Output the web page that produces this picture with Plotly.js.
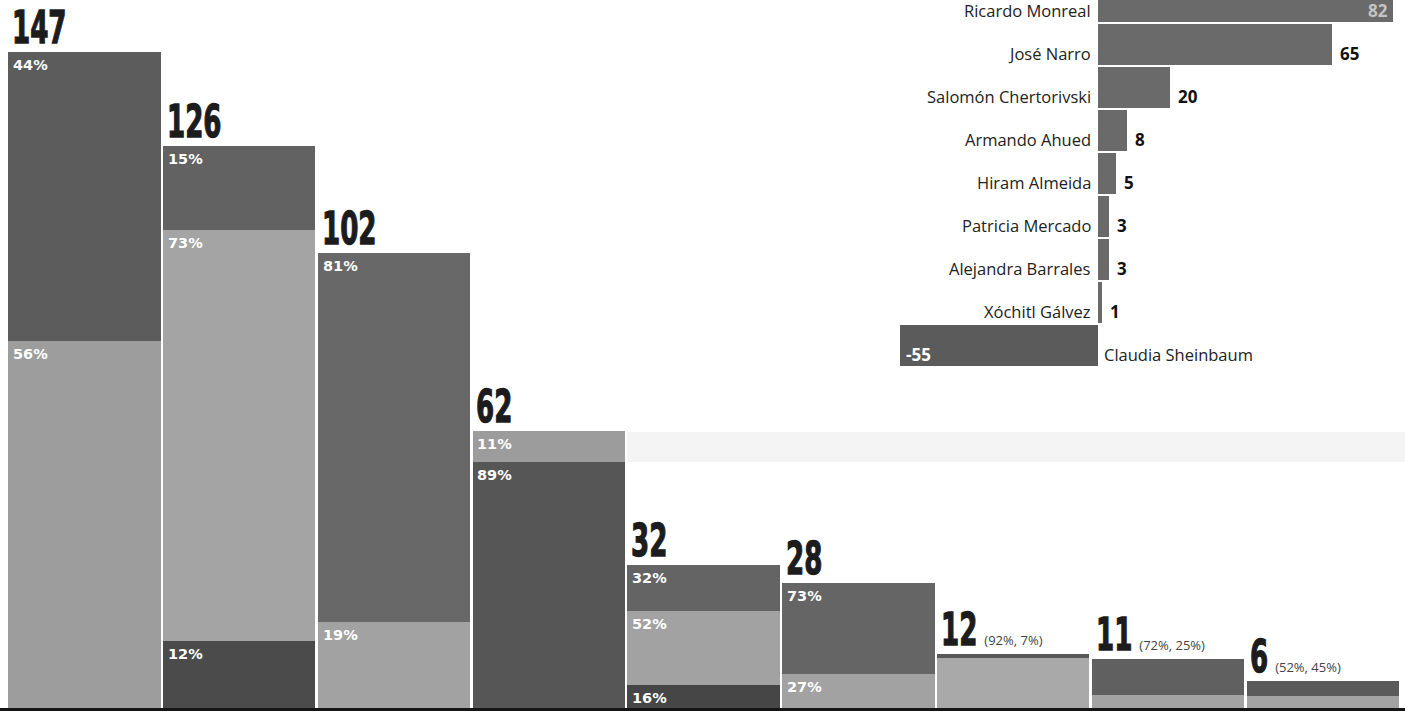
<!DOCTYPE html>
<html>
<head>
<meta charset="utf-8">
<script src="https://cdn.plot.ly/plotly-3.0.1.min.js"></script>
<style>html,body{margin:0;padding:0;background:#fff;}#chart{width:1405px;height:713px;}</style>
</head>
<body>
<div id="chart"></div>
<script>
// ---- Main chart data ----
const totals = [147, 126, 102, 62, 32, 28, 12, 11, 6];
const pctBottom = [56, 12, 19, 89, 16, 27, 92, 25, 45];
const pctMiddle = [44, 73, 81, 11, 52, 73, 7, 72, 52];
const pctTop    = [0, 15, 0, 0, 32, 0, 0, 0, 0];
const showInsidePct = [true, true, true, true, true, true, false, false, false];
const sideNotes = ['', '', '', '', '', '', '(92%, 7%)', '(72%, 25%)', '(52%, 45%)'];

// ---- Inset data ----
const names = ['Ricardo Monreal', 'José Narro', 'Salomón Chertorivski', 'Armando Ahued',
  'Hiram Almeida', 'Patricia Mercado', 'Alejandra Barrales', 'Xóchitl Gálvez', 'Claudia Sheinbaum'];
const netValues = [82, 65, 20, 8, 5, 3, 3, 1, -55];

// ---- Styles ----
const colBottom = ['#9d9d9d', '#4b4b4b', '#a2a2a2', '#565656', '#464646', '#a2a2a2', '#a9a9a9', '#a3a3a3', '#a3a3a3'];
const colMiddle = ['#5c5c5c', '#a4a4a4', '#686868', '#9c9c9c', '#a2a2a2', '#656565', '#585858', '#606060', '#5a5a5a'];
const colTop    = ['#606060', '#626262', '#606060', '#606060', '#646464', '#606060', '#606060', '#606060', '#606060'];
const insetColors = netValues.map((v, i) => i === 8 ? '#5b5b5b' : '#6a6a6a');

const idx = totals.map((_, i) => i);
const sums = idx.map(i => pctBottom[i] + pctMiddle[i] + pctTop[i]);
const segB = idx.map(i => totals[i] * pctBottom[i] / sums[i]);
const segM = idx.map(i => totals[i] * pctMiddle[i] / sums[i]);
const segT = idx.map(i => totals[i] * pctTop[i] / sums[i]);

const BW = 0.985;
const traces = [
  {type: 'bar', x: idx, y: segB, width: BW, marker: {color: colBottom, line: {width: 0}}, xaxis: 'x', yaxis: 'y', hoverinfo: 'skip'},
  {type: 'bar', x: idx, y: segM, width: BW, marker: {color: colMiddle, line: {width: 0}}, xaxis: 'x', yaxis: 'y', hoverinfo: 'skip'},
  {type: 'bar', x: idx, y: segT, width: BW, marker: {color: colTop, line: {width: 0}}, xaxis: 'x', yaxis: 'y', hoverinfo: 'skip'},
  {type: 'bar', orientation: 'h', y: names, x: netValues, width: 0.95,
   marker: {color: insetColors, line: {width: 0}}, xaxis: 'x2', yaxis: 'y2', hoverinfo: 'skip'}
];

const annotations = [];
const bigFont = "DejaVu Sans, sans-serif";
const smallFont = "Open Sans, Noto Sans, sans-serif";
const pctFont = "DejaVu Sans, sans-serif";
const SQUEEZE = 0.58;

// totals above bars (indices 0..8)
idx.forEach(i => {
  annotations.push({
    x: i - 0.5, y: totals[i], xref: 'x', yref: 'y', xanchor: 'left', yanchor: 'bottom',
    xshift: 3, yshift: -4, text: '<b>' + totals[i] + '</b>', showarrow: false,
    font: {family: bigFont, size: 45, color: '#1c1c1c'}
  });
});
// side notes (recorded with the bar they belong to)
const noteMap = {};
idx.forEach(i => {
  if (!sideNotes[i]) return;
  noteMap[annotations.length] = i;
  annotations.push({
    x: i - 0.5, y: totals[i], xref: 'x', yref: 'y', xanchor: 'left', yanchor: 'bottom',
    xshift: 45, yshift: 3, text: sideNotes[i], showarrow: false,
    font: {family: smallFont, size: 13, color: '#444'}
  });
});

// percentages inside segments
function addPct(i, topVal, p) {
  annotations.push({
    x: i - 0.5, y: topVal, xref: 'x', yref: 'y', xanchor: 'left', yanchor: 'top',
    xshift: 4, yshift: -3, text: '<b>' + p + '%</b>', showarrow: false,
    font: {family: pctFont, size: 14.5, color: '#ffffff'}
  });
}
idx.forEach(i => {
  if (!showInsidePct[i]) return;
  addPct(i, segB[i], pctBottom[i]);
  addPct(i, segB[i] + segM[i], pctMiddle[i]);
  if (pctTop[i] > 0) addPct(i, segB[i] + segM[i] + segT[i], pctTop[i]);
});

// inset labels
names.forEach((n, i) => {
  const v = netValues[i];
  const neg = v < 0;
  annotations.push({
    x: 0, y: n, xref: 'x2', yref: 'y2', xanchor: neg ? 'left' : 'right', yanchor: 'middle',
    xshift: neg ? 4 : -5, yshift: -9, text: n, showarrow: false,
    font: {family: smallFont, size: 16.5, color: '#222'}
  });
  let xa = 'left', xs = 6, col = '#111';
  if (i === 0) { xa = 'right'; xs = -3; col = '#c4c4c4'; }
  if (neg) { xa = 'left'; xs = 4; col = '#ffffff'; }
  annotations.push({
    x: v, y: n, xref: 'x2', yref: 'y2', xanchor: xa, yanchor: 'middle',
    xshift: xs, yshift: -9, text: '<b>' + v + '</b>', showarrow: false,
    font: {family: smallFont, size: 17, color: col}
  });
});

const ROW = 43;
const layout = {
  width: 1405, height: 713,
  margin: {l: 0, r: 0, t: 0, b: 0, pad: 0},
  paper_bgcolor: '#ffffff', plot_bgcolor: 'rgba(0,0,0,0)',
  barmode: 'stack', showlegend: false, hovermode: false,
  xaxis: {domain: [0, 1], range: [-0.545, 8.531], showgrid: false, zeroline: false,
          showticklabels: false, ticks: '', showline: true, linecolor: '#151515', linewidth: 3, fixedrange: true},
  yaxis: {domain: [1 - 708 / 713, 1], range: [0, 708 / 4.46], showgrid: false, zeroline: false,
          showticklabels: false, ticks: '', showline: false, fixedrange: true},
  xaxis2: {domain: [896.4 / 1405, 1403 / 1405], range: [-56, 84.7], anchor: 'y2', showgrid: false,
           zeroline: false, showticklabels: false, ticks: '', showline: false, fixedrange: true},
  yaxis2: {domain: [1 - (8.53 * ROW) / 713, 1], type: 'category', categoryorder: 'array', categoryarray: names,
           range: [8.5, -0.03], anchor: 'x2', showgrid: false, zeroline: false, showticklabels: false,
           ticks: '', showline: false, fixedrange: true},
  shapes: [
    {type: 'rect', xref: 'paper', yref: 'paper', x0: 627 / 1405, x1: 1, y0: 1 - 462 / 713, y1: 1 - 432 / 713,
     fillcolor: '#f4f4f4', line: {width: 0}, layer: 'below'}
  ],
  annotations: annotations
};

Plotly.newPlot('chart', traces, layout, {displayModeBar: false, staticPlot: true}).then(gd => {
  const groups = Array.from(gd.querySelectorAll('g.annotation'));
  const byIndex = {};
  groups.forEach(g => { byIndex[+g.getAttribute('data-index')] = g; });
  // condense the big total numbers horizontally (reference uses a condensed display face)
  idx.forEach(i => {
    const g = byIndex[i];
    if (!g) return;
    const t = g.querySelector('text');
    if (!t) return;
    const bb = t.getBBox();
    const x0 = bb.x;
    t.setAttribute('transform', 'translate(' + x0 + ' 0) scale(' + SQUEEZE + ' 1) translate(' + (-x0) + ' 0)');
    t.style.stroke = '#1c1c1c';
    t.style.strokeWidth = '1.4px';
  });
  // place side notes right after the condensed numbers
  Object.keys(noteMap).forEach(k => {
    const g = byIndex[+k];
    const big = byIndex[noteMap[k]];
    if (!g || !big) return;
    const t = g.querySelector('text');
    const bt = big.querySelector('text');
    const right = bt.getBoundingClientRect().right;
    const left = t.getBoundingClientRect().left;
    const dx = right + 7 - left;
    t.setAttribute('transform', 'translate(' + dx + ' 0)');
  });
});
</script>
</body>
</html>
